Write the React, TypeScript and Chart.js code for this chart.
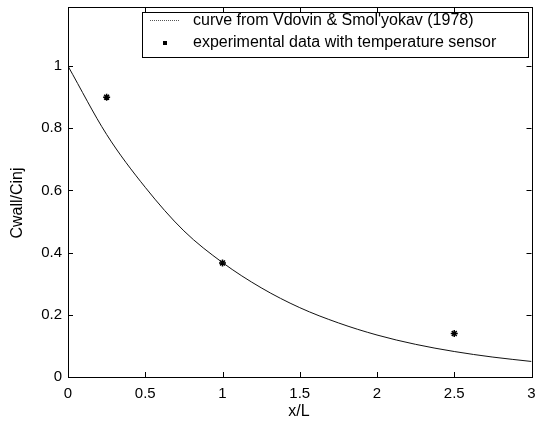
import React, { useEffect, useRef } from "react";
import { Chart, registerables } from "chart.js";

Chart.register(...registerables);

const CURVE_X = [0, 0.25, 0.5, 0.75, 1, 1.25, 1.5, 1.75, 2, 2.25, 2.5, 2.75, 3];
const CURVE_Y = [1.0, 0.78, 0.61, 0.47, 0.368, 0.287, 0.223, 0.174, 0.135, 0.105, 0.082, 0.064, 0.05];
const EXP_X = [0.25, 1, 2.5];
const EXP_Y = [0.9, 0.367, 0.14];
const X_TICKS = [0, 0.5, 1, 1.5, 2, 2.5, 3];
const Y_TICKS = [0, 0.2, 0.4, 0.6, 0.8, 1];
const CURVE_LABEL = "curve from Vdovin & Smol'yokav (1978)";
const EXP_LABEL = "experimental data with temperature sensor";
const X_TITLE = "x/L";
const Y_TITLE = "Cwall/Cinj";

const FONT = "'Liberation Sans', Arial, sans-serif";

const framePlugin = {
  id: "frame",
  afterDatasetsDraw(chart: any) {
    const { ctx, chartArea, scales } = chart;
    const { left, right, top, bottom } = chartArea;
    ctx.save();
    ctx.strokeStyle = "#000";
    ctx.lineWidth = 1;
    ctx.strokeRect(Math.round(left) + 0.5, Math.round(top) + 0.5, Math.round(right - left), Math.round(bottom - top));
    const tl = 5;
    ctx.beginPath();
    X_TICKS.forEach((v) => {
      const px = Math.round(scales.x.getPixelForValue(v)) + 0.5;
      ctx.moveTo(px, bottom);
      ctx.lineTo(px, bottom - tl);
      ctx.moveTo(px, top);
      ctx.lineTo(px, top + tl);
    });
    Y_TICKS.forEach((v) => {
      const py = Math.round(scales.y.getPixelForValue(v)) + 0.5;
      ctx.moveTo(left, py);
      ctx.lineTo(left + tl, py);
      ctx.moveTo(right, py);
      ctx.lineTo(right - tl, py);
    });
    ctx.stroke();

    // legend
    const lx = 142.5, ly = 12.5, lw = 386, lh = 45;
    ctx.fillStyle = "#fff";
    ctx.fillRect(lx, ly, lw, lh);
    ctx.strokeStyle = "#000";
    ctx.strokeRect(lx, ly, lw, lh);
    ctx.strokeStyle = "#555";
    ctx.setLineDash([1, 1]);
    ctx.beginPath();
    ctx.moveTo(150, 20.5);
    ctx.lineTo(180, 20.5);
    ctx.stroke();
    ctx.setLineDash([]);
    ctx.fillStyle = "#000";
    ctx.fillRect(163, 41, 4, 4);
    ctx.font = "16px " + FONT;
    ctx.textAlign = "left";
    ctx.textBaseline = "middle";
    ctx.fillText(CURVE_LABEL, 193, 21);
    ctx.fillText(EXP_LABEL, 193, 43);

    // axis titles
    ctx.textAlign = "center";
    ctx.fillText(X_TITLE, 299, 412);
    ctx.translate(18, 203);
    ctx.rotate(-Math.PI / 2);
    ctx.fillText(Y_TITLE, 0, 0);
    ctx.restore();
  },
};

export default function App() {
  const ref = useRef<HTMLCanvasElement>(null);
  useEffect(() => {
    const canvas = ref.current;
    if (!canvas) return;
    const chart = new Chart(canvas, {
      type: "line",
      data: {
        datasets: [
          {
            label: CURVE_LABEL,
            data: CURVE_X.map((x, i) => ({ x, y: CURVE_Y[i] })),
            borderColor: "#111",
            borderWidth: 1,
            pointRadius: 0,
            cubicInterpolationMode: "monotone",
            fill: false,
          },
          {
            label: EXP_LABEL,
            data: EXP_X.map((x, i) => ({ x, y: EXP_Y[i] })),
            showLine: false,
            pointStyle: "star",
            pointRadius: 3.5,
            borderColor: "#000",
            backgroundColor: "#000",
            pointBorderWidth: 1.5,
          },
        ],
      },
      options: {
        animation: false,
        responsive: false,
        layout: { padding: { left: 0, right: 5, top: 7, bottom: 0 } },
        plugins: { legend: { display: false }, tooltip: { enabled: false } },
        scales: {
          x: {
            type: "linear",
            min: 0,
            max: 3,
            grid: { display: false, drawTicks: false },
            border: { display: false },
            afterBuildTicks: (s: any) => {
              s.ticks = X_TICKS.map((v) => ({ value: v }));
            },
            afterFit: (s: any) => {
              s.height = 53;
              s.paddingLeft = 0;
              s.paddingRight = 0;
            },
            ticks: {
              padding: 8,
              color: "#000",
              font: { family: FONT, size: 15 },
              maxRotation: 0,
              callback: (v: any) => String(v),
            },
          },
          y: {
            type: "linear",
            min: 0,
            max: 1.19,
            grid: { display: false, drawTicks: false },
            border: { display: false },
            afterBuildTicks: (s: any) => {
              s.ticks = Y_TICKS.map((v) => ({ value: v }));
            },
            afterFit: (s: any) => {
              s.width = 68;
              s.paddingTop = 0;
              s.paddingBottom = 0;
            },
            ticks: {
              padding: 6,
              color: "#000",
              font: { family: FONT, size: 15 },
              callback: (v: any) => String(Math.round(v * 10) / 10),
            },
          },
        },
      },
      plugins: [framePlugin],
    } as any);
    return () => chart.destroy();
  }, []);
  return (
    <div style={{ position: "fixed", left: 0, top: 0, width: 537, height: 430, background: "#fff" }}>
      <canvas ref={ref} width={537} height={430} />
    </div>
  );
}
